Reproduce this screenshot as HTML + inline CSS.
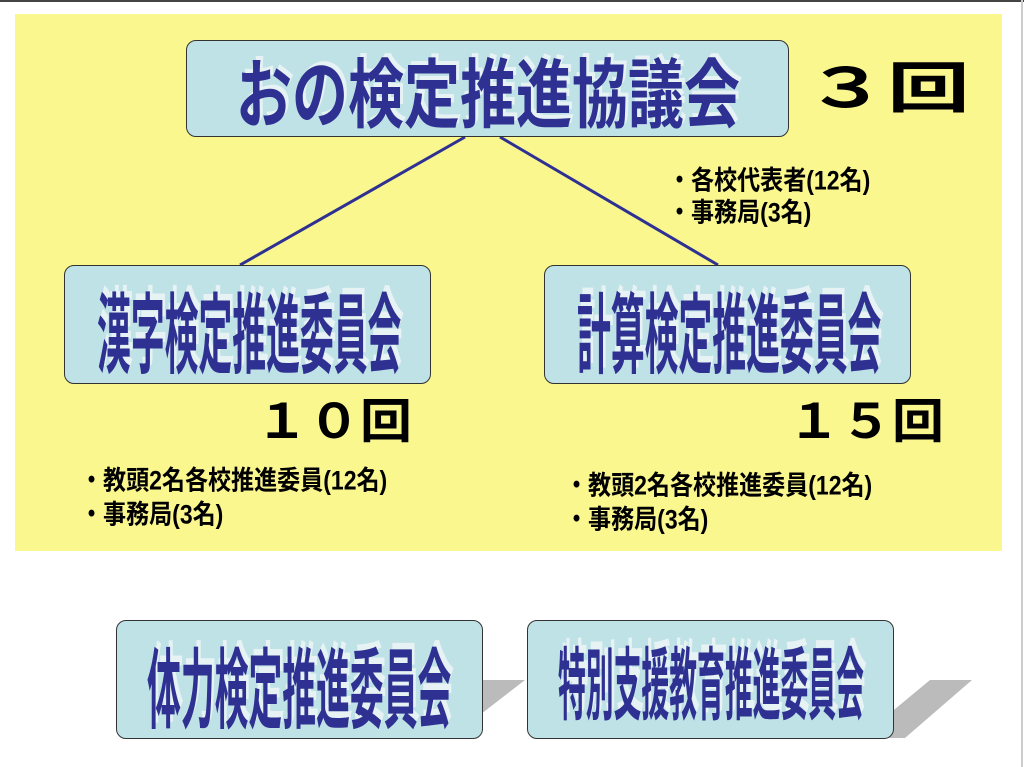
<!DOCTYPE html>
<html><head><meta charset="utf-8"><style>
body{margin:0;width:1024px;height:767px;background:#fff;position:relative;overflow:hidden;font-family:"Liberation Sans","Noto Sans CJK JP",sans-serif}
.top{position:absolute;left:0;top:0;width:1024px;height:2px;background:#444}
.rt{position:absolute;left:1021px;top:0;width:2px;height:767px;background:#ccc}
.yel{position:absolute;left:15px;top:14px;width:987px;height:537px;background:#fbf78f}
.box{position:absolute;background:#bfe2e6;border:1.5px solid #333;border-radius:10px;box-sizing:border-box}
.t{position:absolute;white-space:nowrap;color:#2e3192;font-weight:bold;text-shadow:3px -3px 0 #e6f2f4}
.c{transform-origin:0 0}
.n{position:absolute;white-space:nowrap;color:#000;font-weight:bold;font-size:24px;transform-origin:0 0}
.s{position:absolute;white-space:nowrap;color:#000;font-weight:bold;font-size:24px;transform-origin:0 0;transform:scale(0.96,1.12)}
</style></head><body>
<div class="top"></div><div class="rt"></div>
<div class="yel"></div>
<svg style="position:absolute;left:0;top:0" width="1024" height="767">
<line x1="465" y1="137" x2="240" y2="265" stroke="#2e3192" stroke-width="3"/>
<line x1="500" y1="137" x2="718" y2="265" stroke="#2e3192" stroke-width="3"/>
<polygon points="200,738 280,680 525,680 450,738" fill="#bbb"/>
<polygon points="860,738 930,680 972,680 905,738" fill="#bbb"/>
</svg>
<div class="box" style="left:186px;top:40px;width:603px;height:97px"></div>
<div class="t c" style="left:236px;top:35px;font-size:56px;transform:scale(1,1.35)">おの検定推進協議会</div>
<div class="box" style="left:64px;top:265px;width:367px;height:119px"></div>
<div class="t c" style="left:97px;top:265px;font-size:38px;transform:scale(0.89,2.3)">漢字検定推進委員会</div>
<div class="box" style="left:544px;top:265px;width:367px;height:119px"></div>
<div class="t c" style="left:577px;top:265px;font-size:38px;transform:scale(0.89,2.3)">計算検定推進委員会</div>
<div class="box" style="left:116px;top:620px;width:367px;height:119px"></div>
<div class="t c" style="left:147px;top:620px;font-size:38px;transform:scale(0.89,2.3)">体力検定推進委員会</div>
<div class="box" style="left:527px;top:620px;width:367px;height:119px"></div>
<div class="t c" style="left:558px;top:622px;font-size:30.4px;transform:scale(0.915,2.6)">特別支援教育推進委員会</div>
<div class="n" style="left:805px;top:44px;font-size:58px;transform:scale(1.42,0.95)">３回</div>
<div class="n" style="left:256px;top:384px;font-size:50px;transform:scale(1.04,0.95)">１０回</div>
<div class="n" style="left:788px;top:384px;font-size:50px;transform:scale(1.04,0.95)">１５回</div>
<div class="s" style="left:668px;top:158px">・各校代表者(12名)</div>
<div class="s" style="left:668px;top:190px">・事務局(3名)</div>
<div class="s" style="left:80px;top:458px">・教頭2名各校推進委員(12名)</div>
<div class="s" style="left:80px;top:492px">・事務局(3名)</div>
<div class="s" style="left:565px;top:463px">・教頭2名各校推進委員(12名)</div>
<div class="s" style="left:565px;top:497px">・事務局(3名)</div>
</body></html>
